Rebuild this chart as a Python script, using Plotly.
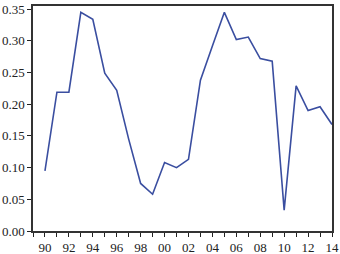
import plotly.graph_objects as go

years = list(range(1990, 2015))
values = [0.095, 0.219, 0.219, 0.345, 0.334, 0.249, 0.222, 0.145, 0.075, 0.058,
          0.108, 0.100, 0.113, 0.238, 0.292, 0.345, 0.302, 0.306, 0.272, 0.268,
          0.033, 0.229, 0.190, 0.196, 0.168]

x_tickvals = list(range(1989, 2015))
x_ticktext = [("%02d" % (y % 100)) if y % 2 == 0 else "" for y in x_tickvals]
y_tickvals = [0.0, 0.05, 0.10, 0.15, 0.20, 0.25, 0.30, 0.35]
y_ticktext = ["0.00", "0.05", "0.10", "0.15", "0.20", "0.25", "0.30", "0.35"]

fig = go.Figure()
fig.add_trace(go.Scatter(x=years, y=values, mode="lines",
                         line=dict(color="#3a4ea0", width=1.6)))

fig.update_layout(
    width=340, height=254,
    margin=dict(l=33, r=8, t=6, b=23, autoexpand=False),
    paper_bgcolor="white", plot_bgcolor="white",
    showlegend=False,
    font=dict(family="Liberation Serif, Times New Roman, serif", size=13, color="#222"),
)
fig.update_xaxes(range=[1989, 2014], tickvals=x_tickvals, ticktext=x_ticktext,
                 ticks="outside", ticklen=4, tickwidth=1.2, tickcolor="#222",
                 showline=True, linecolor="#333", linewidth=1.5, mirror=True,
                 showgrid=False, zeroline=False, automargin=False)
fig.update_yaxes(range=[0, 0.355], tickvals=y_tickvals, ticktext=y_ticktext,
                 ticks="outside", ticklen=4, tickwidth=1.2, tickcolor="#222",
                 showline=True, linecolor="#333", linewidth=1.5, mirror=True,
                 showgrid=False, zeroline=False, automargin=False)

fig.write_html("out.html", config={"displayModeBar": False},
               post_script="document.body.style.margin='0';document.body.style.padding='0';")
